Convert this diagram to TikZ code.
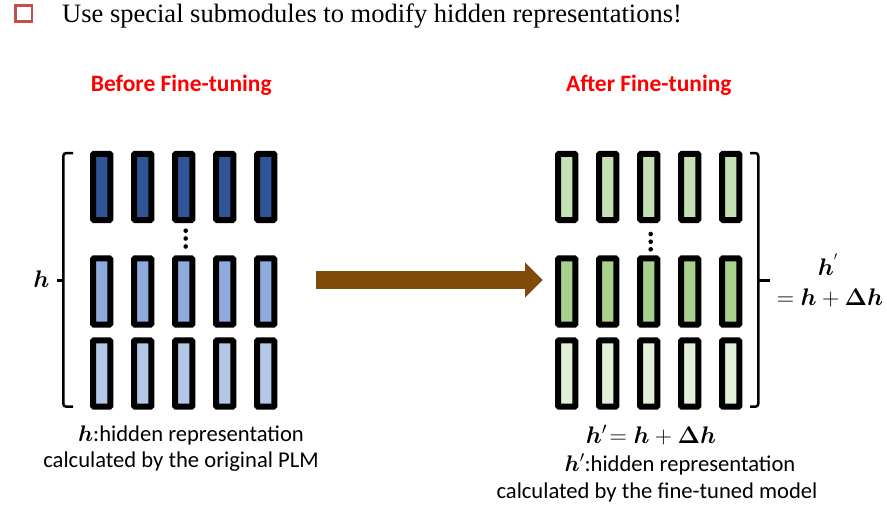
\RequirePackage{fix-cm}
\documentclass[tikz,border=0pt]{standalone}
\usepackage{fontspec}
\usepackage{amsmath}
\usepackage{bm}
\setmainfont{Liberation Serif}
\newfontfamily\carlito{Carlito}
\usetikzlibrary{arrows.meta}
\definecolor{dblue}{HTML}{2F5597}
\definecolor{mblue}{HTML}{8FAADC}
\definecolor{lblue}{HTML}{B4C7E7}
\definecolor{tgreen}{HTML}{C5E0B4}
\definecolor{mgreen}{HTML}{A9D18E}
\definecolor{bgreen}{HTML}{E2F0D9}
\definecolor{arrbrown}{HTML}{7F4B08}
\definecolor{sqred}{HTML}{C0504D}
\definecolor{hdred}{HTML}{FF0000}
\tikzset{
  bar/.style={draw=black, line width=6pt, rounded corners=1pt, minimum width=17.3pt, minimum height=66.3pt, inner sep=0pt},
  brk/.style={draw=black, line width=2.5pt, rounded corners=3pt},
  vdot/.style={circle, fill=black, inner sep=0pt, minimum size=4.6pt},
  hdr/.style={font=\carlito\bfseries\fontsize{23.5}{26}\selectfont, text=hdred, inner sep=0pt},
  captxt/.style={font=\carlito\fontsize{22.6}{26}\selectfont, inner sep=0pt},
  mlab/.style={inner sep=0pt, font=\fontsize{24}{26}\selectfont}
}
\begin{document}
\begin{tikzpicture}[x=1pt,y=-1pt]
\useasboundingbox (0,0) rectangle (887,512);
% title
\node[draw=sqred, line width=2.5pt, minimum width=16.7pt, minimum height=16pt, inner sep=0pt] (sq) at (23.6,13.3) {};
\node[anchor=base west, inner sep=0pt, font=\fontsize{26.5}{30}\selectfont] (title) at (62,22.7) {Use special submodules to modify hidden representations!};
% headers
\node[hdr, anchor=base] (hb) at (181.3,91.7) {Before Fine-tuning};
\node[hdr, anchor=base] (ha) at (648.8,91.7) {After Fine-tuning};
% bars
\foreach \i in {0,...,4}{
  \node[bar, fill=dblue]  (LT\i) at ({101.7+41*\i},186.9) {};
  \node[bar, fill=mblue]  (LM\i) at ({101.7+41*\i},291.5) {};
  \node[bar, fill=lblue]  (LB\i) at ({101.7+41*\i},373.5) {};
  \node[bar, fill=tgreen] (RT\i) at ({566.7+41*\i},186.9) {};
  \node[bar, fill=mgreen] (RM\i) at ({566.7+41*\i},291.5) {};
  \node[bar, fill=bgreen] (RB\i) at ({566.7+41*\i},373.5) {};
}
% vertical dots
\node[vdot] (ld1) at (185.7,230.7) {};
\node[vdot] (ld2) at (185.7,238.5) {};
\node[vdot] (ld3) at (185.7,246.5) {};
\node[vdot] (rd1) at (650.7,234) {};
\node[vdot] (rd2) at (650.7,241.7) {};
\node[vdot] (rd3) at (650.7,249.3) {};
% left bracket
\draw[brk] (73,153) -- (63.3,153) -- (63.3,406.7) -- (73,406.7);
\draw[line width=3pt] (63.3,280) -- (56.5,280);
\node[mlab, anchor=base] (hl) at (41.5,287.7) {$\bm{h}$};
% right bracket
\draw[brk] (750,153) -- (758.3,153) -- (758.3,406.7) -- (750,406.7);
\draw[line width=3pt] (758.3,280) -- (770,280);
\node[mlab, anchor=base] (hr1) at (828,275) {$\bm{h}^{'}$};
\node[mlab, anchor=base] (hr2) at (830,305) {$=\bm{h}+\bm{\Delta h}$};
% arrow
\coordinate (arrS) at (316,280);
\coordinate (arrE) at (542.7,280);
\draw[arrbrown, line width=18.3pt, -{Triangle[length=17.7pt,width=34pt]}] (arrS) -- (arrE);
% captions left
\node[captxt, anchor=base] (cl1) at (191,441) {$\bm{h}$:hidden representation};
\node[captxt, anchor=base] (cl2) at (181,467) {calculated by the original PLM};
% captions right
\node[mlab, anchor=base] (cr1) at (651,443) {$\bm{h}'\!= \bm{h}+\bm{\Delta h}$};
\node[captxt, anchor=base] (cr2) at (680,471) {$\bm{h}'$:hidden representation};
\node[captxt, anchor=base] (cr3) at (657,498) {calculated by the fine-tuned model};
\end{tikzpicture}
\end{document}
